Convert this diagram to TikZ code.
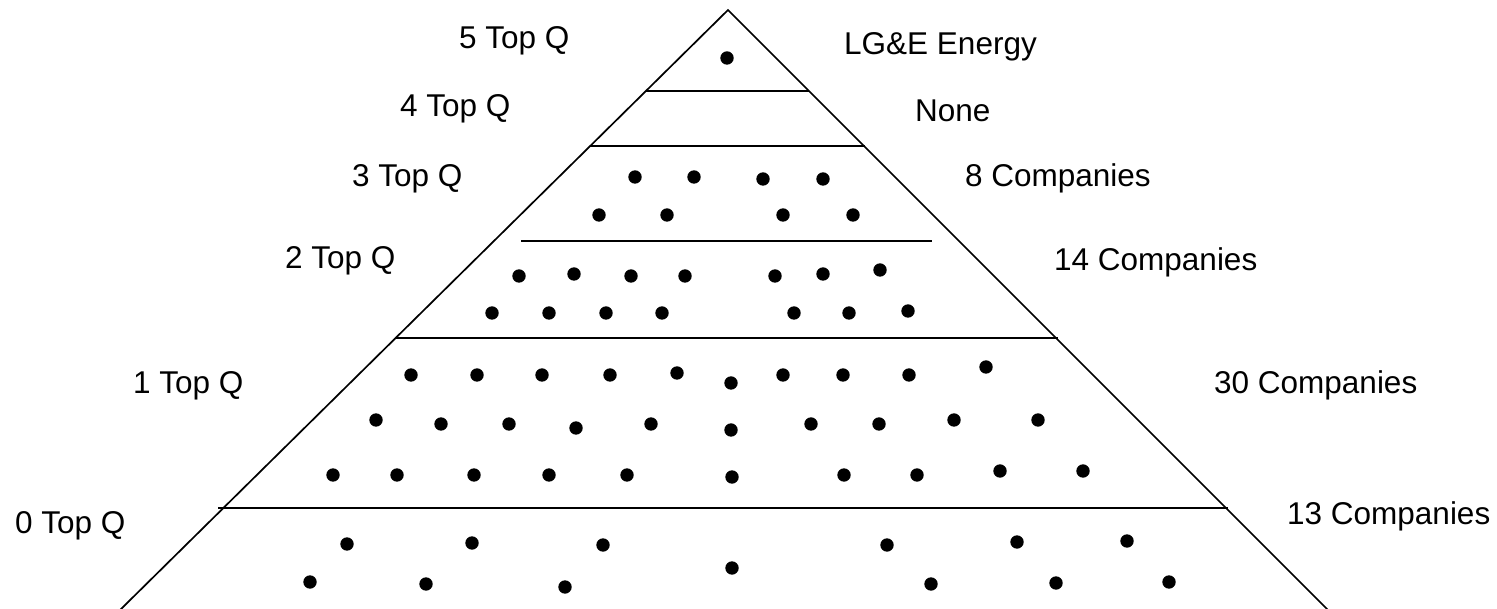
\documentclass[tikz,border=0pt]{standalone}
\usepackage{fontspec}
\setmainfont{Liberation Sans}
\begin{document}
\begin{tikzpicture}[x=1pt,y=-1pt,
  lbl/.style={anchor=base west,inner sep=0pt,font=\fontsize{31.5}{36}\selectfont},
  edge/.style={line width=1.7pt},
  dotfill/.style={fill=black}]
\useasboundingbox (0,0) rectangle (1497,609);
% pyramid
\coordinate (apex) at (728,10);
\coordinate (bl) at (118,612);
\coordinate (br) at (1330,612);
\draw[edge] (bl) -- (apex) -- (br);
% tier lines
\draw[edge] (646,91) -- (809,91);
\draw[edge] (590,146) -- (865,146);
\draw[edge] (521,241) -- (932,241);
\draw[edge] (395,338) -- (1058,338);
\draw[edge] (218,508) -- (1228,508);
% dots
\foreach \p in {
 (727,58),
 (635,177),(694,177),(763,179),(823,179),(599,215),(667,215),(783,215),(853,215),
 (519,276),(574,274),(631,276),(685,276),(775,276),(823,274),(880,270),
 (492,313),(549,313),(606,313),(662,313),(794,313),(849,313),(908,311),
 (411,375),(477,375),(542,375),(610,375),(677,373),(731,383),(783,375),(843,375),(909,375),(986,367),
 (376,420),(441,424),(509,424),(576,428),(651,424),(731,430),(811,424),(879,424),(954,420),(1038,420),
 (333,475),(397,475),(474,475),(549,475),(627,475),(732,477),(844,475),(917,475),(1000,471),(1083,471),
 (347,544),(472,543),(603,545),(732,568),(887,545),(1017,542),(1127,541),
 (310,582),(426,584),(565,587),(931,584),(1056,583),(1169,582)}
  \fill[dotfill] \p circle (6.7);
% labels
\node[lbl] (q5) at (459,49) {5 Top Q};
\node[lbl] (c5) at (844,55) {LG\&E Energy};
\node[lbl] (q4) at (400,117) {4 Top Q};
\node[lbl] (c4) at (915,122) {None};
\node[lbl] (q3) at (352,187) {3 Top Q};
\node[lbl] (c3) at (965,187) {8 Companies};
\node[lbl] (q2) at (285,269) {2 Top Q};
\node[lbl] (c2) at (1054,271) {14 Companies};
\node[lbl] (q1) at (133,394) {1 Top Q};
\node[lbl] (c1) at (1214,394) {30 Companies};
\node[lbl] (q0) at (15,533) {0 Top Q};
\node[lbl] (c0) at (1287,524) {13 Companies};
\end{tikzpicture}
\end{document}
